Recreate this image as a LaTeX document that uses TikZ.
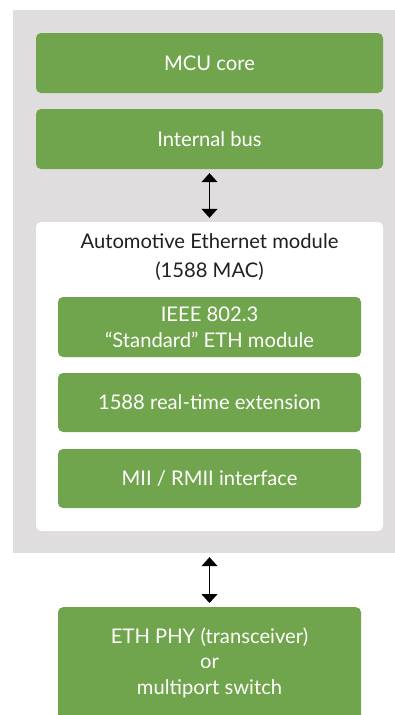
\documentclass[tikz,border=0pt]{standalone}
\usepackage{fontspec}
\setmainfont{Lato}
\usetikzlibrary{arrows.meta}
\definecolor{bggrey}{RGB}{224,221,222}
\definecolor{boxgreen}{RGB}{112,165,77}
\definecolor{txtdark}{RGB}{35,31,32}
\tikzset{
  greenbox/.style={rectangle, rounded corners=5pt, fill=boxgreen, text=white, align=center,
    font=\fontsize{20.2}{26}\selectfont, inner sep=0pt},
  whitebox/.style={rectangle, rounded corners=5pt, fill=white, inner sep=0pt},
  biarrow/.style={{Triangle[width=16pt,length=9pt]}-{Triangle[width=16pt,length=9pt]}, line width=1.4pt, black, shorten <=4pt, shorten >=4pt},
}
\begin{document}
\begin{tikzpicture}[x=1pt,y=-1pt]
\useasboundingbox (0,0) rectangle (394,715);
\node[rectangle, fill=bggrey, inner sep=0pt, minimum width=390pt, minimum height=543pt] (bg) at (208,281.5) {};
\node[greenbox, minimum width=347pt, minimum height=60pt] (mcu) at (209.5,63) {MCU core};
\node[greenbox, minimum width=347pt, minimum height=60pt] (bus) at (209.5,139) {Internal bus};
\node[whitebox, minimum width=347pt, minimum height=309pt] (mod) at (209.5,376.5) {};
\node[align=center, text=txtdark, font=\fontsize{20.2}{29}\selectfont] (title) at (209.5,257.5) {Automotive Ethernet module\\(1588 MAC)};
\node[greenbox, minimum width=303pt, minimum height=60pt] (ieee) at (209.5,327) {IEEE 802.3\\“Standard” ETH module};
\node[greenbox, minimum width=303pt, minimum height=59pt] (rt) at (209.5,402.5) {1588 real-time extension};
\node[greenbox, minimum width=303pt, minimum height=59pt] (mii) at (209.5,478.5) {MII / RMII interface};
\node[greenbox, minimum width=303pt, minimum height=130pt, anchor=north] (phy) at (209.5,607) {};
\node[align=center, text=white, font=\fontsize{20.2}{25.5}\selectfont] (phytext) at (209.5,662.5) {ETH PHY (transceiver)\\or\\multiport switch};
\draw[biarrow] (bus.south) -- (mod.north);
\draw[biarrow] (bg.south -| mod.north) -- (phy.north);
\end{tikzpicture}
\end{document}
